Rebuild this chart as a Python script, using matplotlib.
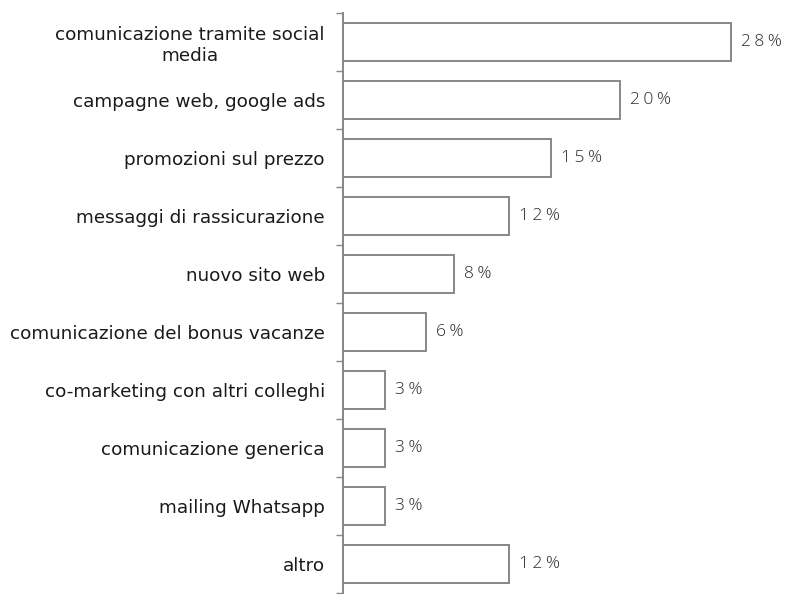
import matplotlib.pyplot as plt
import numpy as np

categorie = [
    "comunicazione tramite social\nmedia",
    "campagne web, google ads",
    "promozioni sul prezzo",
    "messaggi di rassicurazione",
    "nuovo sito web",
    "comunicazione del bonus vacanze",
    "co-marketing con altri colleghi",
    "comunicazione generica",
    "mailing Whatsapp",
    "altro",
]
valori = [28, 20, 15, 12, 8, 6, 3, 3, 3, 12]

grigio = "#878787"

fig = plt.figure(figsize=(7.87, 5.94), dpi=100)
ax = fig.add_axes([343 / 787, 1 / 594, 415.8 / 787, 580 / 594])

y = np.arange(len(categorie))
ax.barh(y, valori, height=0.67, color="white", edgecolor=grigio, linewidth=1.4)

ax.set_xlim(0, 30)
ax.set_ylim(len(categorie) - 0.5, -0.5)

# etichette con i valori, sottili e spaziate
for yi, v in zip(y, valori):
    testo = "\u2009".join(list(f"{v}%"))
    ax.text(v + 0.72, yi, testo, va="center", ha="left", fontsize=12.5,
            color="#2a2a2a", family=["Open Sans", "DejaVu Sans"], fontweight="light")

ax.set_yticks(y)
ax.set_yticklabels(categorie, fontsize=13.2, color="#1a1a1a", multialignment="center")
ax.tick_params(axis="y", which="major", length=0, pad=13)
ax.set_yticks(np.arange(-0.5, len(categorie), 1), minor=True)
ax.tick_params(axis="y", which="minor", length=5, width=1, color=grigio, direction="out")

ax.set_xticks([])
for lato in ["top", "right", "bottom"]:
    ax.spines[lato].set_visible(False)
ax.spines["left"].set_color(grigio)
ax.spines["left"].set_linewidth(1.4)

fig.savefig("out.png", dpi=100)
